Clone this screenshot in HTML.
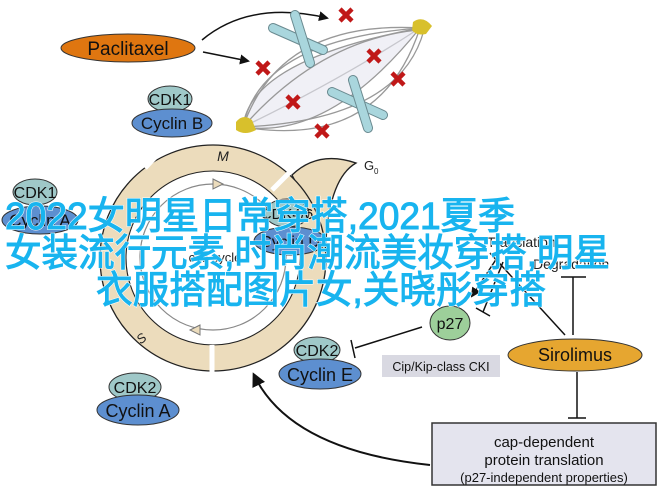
<!DOCTYPE html>
<html><head><meta charset="utf-8"><style>
html,body{margin:0;padding:0;background:#fff;}
svg{display:block;font-family:"Liberation Sans",Arial,sans-serif;}
</style></head><body>
<svg width="659" height="497" viewBox="0 0 659 497" xmlns="http://www.w3.org/2000/svg">
<defs>
<marker id="ah" markerWidth="10" markerHeight="10" refX="8" refY="5" orient="auto" markerUnits="userSpaceOnUse"><path d="M0,0 L10,5 L0,10 z" fill="#111"/></marker>
<marker id="ah2" markerWidth="14" markerHeight="14" refX="11" refY="7" orient="auto" markerUnits="userSpaceOnUse"><path d="M0,0 L14,7 L0,14 z" fill="#111"/></marker>
</defs>

<ellipse cx="128" cy="48" rx="67" ry="14" fill="#df7610" stroke="#333" stroke-width="1"/>
<text x="128" y="55" font-size="19" text-anchor="middle" fill="#111">Paclitaxel</text>
<path d="M202,40 Q250,0 327,18" fill="none" stroke="#111" stroke-width="1.5" marker-end="url(#ah)"/>
<path d="M203,52 L248,61" fill="none" stroke="#111" stroke-width="1.5" marker-end="url(#ah)"/>

<g fill="none" stroke="#999" stroke-width="1.3">
<path d="M243,127 Q250,60 420,28" fill="#e6e6f0" fill-opacity="0.6"/>
<path d="M243,127 Q260,40 420,28"/>
<path d="M243,127 Q280,20 420,28"/>
<path d="M243,127 Q340,80 420,28"/>
<path d="M243,127 Q330,140 420,28" fill="#e6e6f0" fill-opacity="0.6"/>
<path d="M243,127 Q380,150 420,28"/>
<path d="M243,127 Q400,120 424,30"/>
<path d="M243,127 Q320,40 418,30"/>
</g>
<g>
<path d="M273,28 L323,50" stroke-width="10" stroke-linecap="round" stroke="#6a8a90"/>
<path d="M273,28 L323,50" stroke-width="8" stroke-linecap="round" stroke="#a9d6dd"/>
<path d="M295,15 L310,63" stroke-width="10" stroke-linecap="round" stroke="#6a8a90"/>
<path d="M295,15 L310,63" stroke-width="8" stroke-linecap="round" stroke="#a9d6dd"/>
<path d="M332,92 L383,115" stroke-width="10" stroke-linecap="round" stroke="#6a8a90"/>
<path d="M332,92 L383,115" stroke-width="8" stroke-linecap="round" stroke="#a9d6dd"/>
<path d="M353,80 L368,128" stroke-width="10" stroke-linecap="round" stroke="#6a8a90"/>
<path d="M353,80 L368,128" stroke-width="8" stroke-linecap="round" stroke="#a9d6dd"/>
</g>
<path d="M236,122 Q243,113 252,120 L256,130 Q245,136 236,130 z" fill="#d8c02c"/>
<path d="M413,22 Q423,15 432,26 L426,34 Q416,36 412,30 z" fill="#d8c02c"/>
<g stroke="#c01818" stroke-width="4.5">
<path d="M340,9 L352,21 M352,9 L340,21"/>
<path d="M257,62 L269,74 M269,62 L257,74"/>
<path d="M368,50 L380,62 M380,50 L368,62"/>
<path d="M392,73 L404,85 M404,73 L392,85"/>
<path d="M287,96 L299,108 M299,96 L287,108"/>
<path d="M316,125 L328,137 M328,125 L316,137"/>
</g>

<ellipse cx="170" cy="99" rx="22" ry="13" fill="#9fc8c8" stroke="#333"/>
<ellipse cx="172" cy="123" rx="40" ry="14" fill="#5d8fd0" stroke="#333"/>
<text x="170" y="105" font-size="16" text-anchor="middle" fill="#111">CDK1</text>
<text x="172" y="129" font-size="17" text-anchor="middle" fill="#111">Cyclin B</text>

<path d="M292,175 Q318,150 356,163 Q330,178 326,240 Z" fill="#ecdcbc" stroke="#222" stroke-width="1.3"/>
<circle cx="213" cy="258" r="100" fill="none" stroke="#ecdcbc" stroke-width="26"/>
<circle cx="213" cy="258" r="113" fill="none" stroke="#222" stroke-width="1.3"/>
<circle cx="213" cy="258" r="87" fill="none" stroke="#222" stroke-width="1.1"/>
<path d="M145,168 L160,152" stroke="#fff" stroke-width="5"/>
<path d="M272,190 L290,172" stroke="#fff" stroke-width="5"/>
<path d="M212,345 L212,372" stroke="#fff" stroke-width="5"/>
<circle cx="213" cy="257" r="73" fill="none" stroke="#888" stroke-width="1.2"/>
<path d="M213,179 L223,184 L213,189 z" fill="#ecdcbc" stroke="#777"/>
<path d="M200,325 L190,330 L200,335 z" fill="#ecdcbc" stroke="#777"/>
<text x="223" y="161" font-size="14" text-anchor="middle" fill="#222" font-style="italic">M</text>
<text x="141" y="343" font-size="13" text-anchor="middle" fill="#222" font-style="italic" transform="rotate(-40 141 338)">S</text>
<text x="364" y="170" font-size="13" fill="#222">G</text>
<text x="374" y="174" font-size="8" fill="#222">0</text>
<text x="215" y="262" font-size="13" text-anchor="middle" fill="#222">cell cycle</text>

<ellipse cx="35" cy="192" rx="22" ry="13" fill="#9fc8c8" stroke="#333"/>
<ellipse cx="40" cy="220" rx="38" ry="14" fill="#5d8fd0" stroke="#333"/>
<text x="35" y="198" font-size="16" text-anchor="middle" fill="#111">CDK1</text>
<text x="40" y="226" font-size="17" text-anchor="middle" fill="#111">Cyclin A</text>

<ellipse cx="287" cy="213" rx="22" ry="14" fill="#9fc8c8" stroke="#333"/>
<ellipse cx="290" cy="241" rx="36" ry="14" fill="#5d8fd0" stroke="#333"/>
<text x="287" y="219" font-size="15" text-anchor="middle" fill="#111">CDK4/6</text>
<text x="290" y="247" font-size="16" text-anchor="middle" fill="#111">Cyclin D</text>

<text x="487" y="247" font-size="14" fill="#222">Translation</text>
<text x="533" y="269" font-size="14" fill="#222">Degradation</text>
<path d="M573,277 L573,335 M561,277 L586,277" stroke="#111" stroke-width="1.5"/>
<path d="M565,335 L490,253" stroke="#111" stroke-width="1.5"/>
<path d="M497,258 L472,296" stroke="#111" stroke-width="1.5" marker-end="url(#ah)"/>
<path d="M503,262 L483,312 M476,308 L490,316" stroke="#111" stroke-width="1.5"/>

<ellipse cx="450" cy="323" rx="20" ry="17" fill="#9dcf9a" stroke="#333"/>
<text x="450" y="329" font-size="16" text-anchor="middle" fill="#111">p27</text>
<path d="M422,327 L355,348 M351,340 L355,358" stroke="#111" stroke-width="1.5"/>
<rect x="382" y="355" width="118" height="22" fill="#d9d9e2"/>
<text x="441" y="371" font-size="12.5" text-anchor="middle" fill="#111">Cip/Kip-class CKI</text>

<ellipse cx="317" cy="350" rx="23" ry="13" fill="#9fc8c8" stroke="#333"/>
<ellipse cx="320" cy="374" rx="41" ry="15" fill="#5d8fd0" stroke="#333"/>
<text x="317" y="356" font-size="16" text-anchor="middle" fill="#111">CDK2</text>
<text x="320" y="381" font-size="18" text-anchor="middle" fill="#111">Cyclin E</text>

<ellipse cx="135" cy="387" rx="26" ry="14" fill="#9fc8c8" stroke="#333"/>
<ellipse cx="138" cy="410" rx="41" ry="15" fill="#5d8fd0" stroke="#333"/>
<text x="135" y="393" font-size="16" text-anchor="middle" fill="#111">CDK2</text>
<text x="138" y="417" font-size="18" text-anchor="middle" fill="#111">Cyclin A</text>

<ellipse cx="575" cy="355" rx="67" ry="16" fill="#e6a630" stroke="#333"/>
<text x="575" y="361" font-size="18" text-anchor="middle" fill="#111">Sirolimus</text>
<path d="M577,372 L577,418 M568,418 L586,418" stroke="#111" stroke-width="1.5"/>

<rect x="432" y="423" width="224" height="62" fill="#e4e4ee" stroke="#333" stroke-width="1.5"/>
<text x="544" y="447" font-size="15" text-anchor="middle" fill="#111">cap-dependent</text>
<text x="544" y="465" font-size="15" text-anchor="middle" fill="#111">protein translation</text>
<text x="544" y="482" font-size="13" text-anchor="middle" fill="#111">(p27-independent properties)</text>
<path d="M430,465 Q290,450 254,375" fill="none" stroke="#111" stroke-width="2" marker-end="url(#ah2)"/>

<g font-family="'Liberation Sans','Noto Sans CJK SC',sans-serif" font-size="38">
<g fill="#18b4ef" stroke="#18b4ef" stroke-width="1.3">
<text x="5" y="229" textLength="510" lengthAdjust="spacingAndGlyphs" stroke="#fff" stroke-width="2" paint-order="stroke">2022女明星日常穿搭,2021夏季</text>
<text x="5" y="266" textLength="605" lengthAdjust="spacingAndGlyphs" stroke="#fff" stroke-width="2" paint-order="stroke">女装流行元素,时尚潮流美妆穿搭,明星</text>
<text x="96" y="303" textLength="450" lengthAdjust="spacingAndGlyphs" stroke="#fff" stroke-width="2" paint-order="stroke">衣服搭配图片女,关晓彤穿搭</text>
<text x="5" y="229" textLength="510" lengthAdjust="spacingAndGlyphs" stroke-width="1">2022女明星日常穿搭,2021夏季</text>
<text x="5" y="266" textLength="605" lengthAdjust="spacingAndGlyphs" stroke-width="1">女装流行元素,时尚潮流美妆穿搭,明星</text>
<text x="96" y="303" textLength="450" lengthAdjust="spacingAndGlyphs" stroke-width="1">衣服搭配图片女,关晓彤穿搭</text>
</g>
</g>
</svg>
</body></html>
